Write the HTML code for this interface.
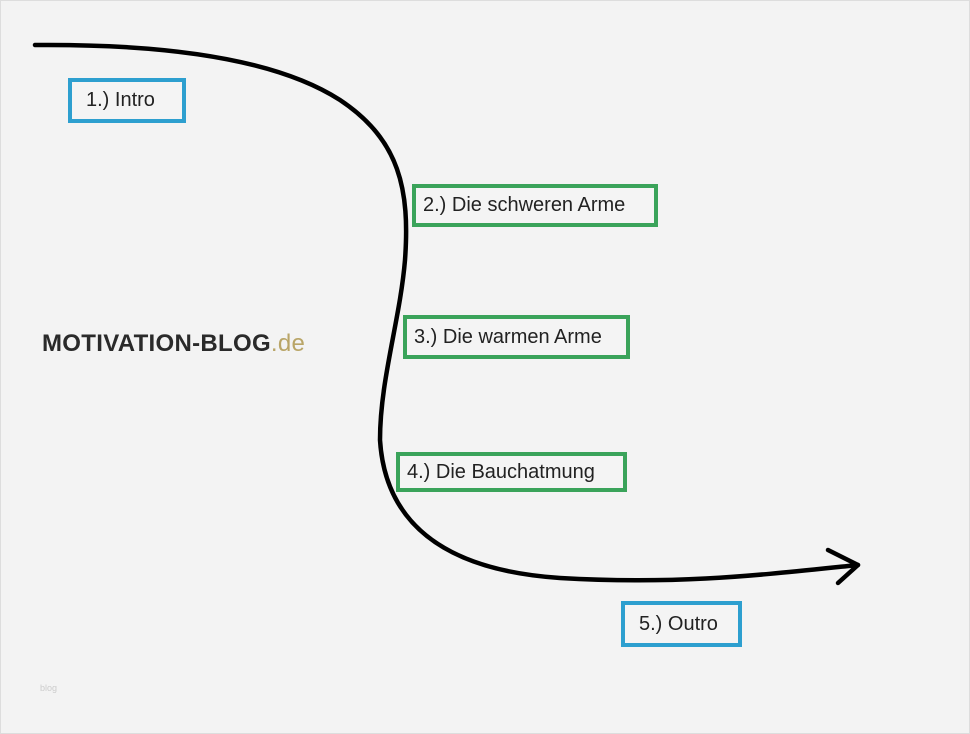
<!DOCTYPE html>
<html><head><meta charset="utf-8"><style>
body{margin:0;width:970px;height:734px;background:#f3f3f3;position:relative;overflow:hidden;font-family:"Liberation Sans",sans-serif;}
.frame{position:absolute;left:0;top:0;width:968px;height:732px;border:1px solid #ddd;}
.b{position:absolute;box-sizing:border-box;border:4px solid #2d9fcf;background:#f4f4f4;font-size:20px;color:#222;padding-left:14px;display:flex;align-items:center;}
.g{border-color:#3aa35a;padding-left:7px;}
.logo{position:absolute;left:42px;top:330px;font-size:24px;font-weight:bold;color:#2a2a2a;letter-spacing:0.3px;}
.logo span{color:#b9a567;font-weight:normal;}
</style></head><body>
<div class="frame"></div>
<svg width="970" height="734" style="position:absolute;left:0;top:0">
<path d="M35,45 C150,44 270,55 340,100 C400,140 410,190 405,260 C400,320 380,380 380,440 C385,520 440,570 560,578 C680,585 760,575 858,565" fill="none" stroke="#000" stroke-width="4.5" stroke-linecap="round"/>
<path d="M828,550 L858,565 L838,583" fill="none" stroke="#000" stroke-width="4.5" stroke-linecap="round" stroke-linejoin="round"/>
</svg>
<div class="b" style="left:68px;top:78px;width:118px;height:45px;">1.) Intro</div>
<div class="b g" style="left:412px;top:184px;width:246px;height:43px;">2.) Die schweren Arme</div>
<div class="b g" style="left:403px;top:315px;width:227px;height:44px;">3.) Die warmen Arme</div>
<div class="b g" style="left:396px;top:452px;width:231px;height:40px;">4.) Die Bauchatmung</div>
<div class="b" style="left:621px;top:601px;width:121px;height:46px;">5.) Outro</div>
<div class="logo">MOTIVATION-BLOG<span>.de</span></div>
<div style="position:absolute;left:40px;top:683px;font-size:9px;color:#ccc;">blog</div>
</body></html>
